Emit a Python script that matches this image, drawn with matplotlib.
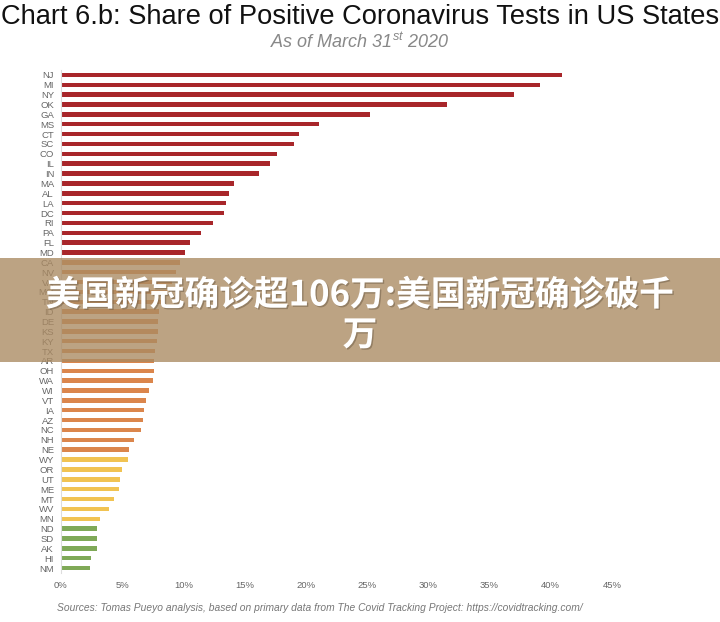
import matplotlib.pyplot as plt
import matplotlib.patheffects as pe
from matplotlib.patches import Rectangle
import numpy as np

plt.rcParams["font.family"] = ["Liberation Sans", "DejaVu Sans"]
plt.rcParams["mathtext.fontset"] = "custom"
plt.rcParams["mathtext.it"] = "Liberation Sans:italic"
plt.rcParams["mathtext.rm"] = "Liberation Sans:italic"

states = ["NJ", "MI", "NY", "OK", "GA", "MS", "CT", "SC", "CO", "IL", "IN",
          "MA", "AL", "LA", "DC", "RI", "PA", "FL", "MD", "CA", "NV", "VA",
          "MO", "TN", "ID", "DE", "KS", "KY", "TX", "AR", "OH", "WA", "WI",
          "VT", "IA", "AZ", "NC", "NH", "NE", "WY", "OR", "UT", "ME", "MT",
          "WV", "MN", "ND", "SD", "AK", "HI", "NM"]
positive_share = [40.9, 39.1, 37.0, 31.5, 25.2, 21.1, 19.4, 19.0, 17.6, 17.1, 16.2,
                  14.1, 13.7, 13.5, 13.3, 12.4, 11.4, 10.5, 10.1, 9.7, 9.4, 9.1,
                  8.7, 8.3, 7.98, 7.96, 7.92, 7.84, 7.64, 7.62, 7.6, 7.52, 7.2,
                  6.92, 6.75, 6.67, 6.5, 6.0, 5.53, 5.47, 5.0, 4.82, 4.77, 4.36,
                  3.95, 3.21, 2.94, 2.91, 2.91, 2.42, 2.40]
# colour group per state: number of states in each band, top to bottom
group_sizes = [19, 20, 7, 6]
group_colors = ["#a8262a", "#db864c", "#f1c352", "#7fa957"]

colors = []
for n, c in zip(group_sizes, group_colors):
    colors += [c] * n

fig = plt.figure(figsize=(7.2, 6.22), dpi=100)
ax = fig.add_axes([61 / 720, 1 - 573 / 622, 551 / 720, 503 / 622])

y = np.arange(len(states))
ax.barh(y, positive_share, height=0.45, color=colors)
ax.set_ylim(len(states) - 0.5, -0.5)
ax.set_xlim(0, 45)
ax.set_yticks(y)
ax.set_yticklabels(states)
xt = np.arange(0, 50, 5)
ax.set_xticks(xt)
ax.set_xticklabels(["{}%".format(v) for v in xt])
ax.tick_params(axis="both", length=0, colors="#666666", labelsize=6.8)
ax.tick_params(axis="x", pad=6)
ax.tick_params(axis="y", pad=5)
for s in ["top", "right", "bottom"]:
    ax.spines[s].set_visible(False)
ax.spines["left"].set_color("#dddddd")
ax.spines["left"].set_linewidth(0.8)

fig.text(0.5, 1 - 17 / 622, "Chart 6.b: Share of Positive Coronavirus Tests in US States",
         ha="center", va="center", fontsize=19.6, color="#111111")
fig.text(0.5, 1 - 42 / 622, r"As of March 31$^{st}$ 2020", ha="center", va="center",
         fontsize=13, style="italic", color="#888888")
fig.text(57 / 720, 1 - 608 / 622,
         "Sources: Tomas Pueyo analysis, based on primary data from The Covid Tracking Project: https://covidtracking.com/",
         ha="left", va="center", fontsize=7.4, style="italic", color="#777777")

# overlay banner
fig.add_artist(Rectangle((0, 1 - 362 / 622), 1, 104 / 622, transform=fig.transFigure,
                         facecolor="#aa8a62", alpha=0.79, edgecolor="none", zorder=5))
cjk = ["Noto Sans CJK SC", "DejaVu Sans"]
shadow = [pe.withSimplePatchShadow(offset=(1, -1), shadow_rgbFace="#6b5a44", alpha=0.5)]
fig.text(0.5, 1 - 295 / 622, "美国新冠确诊超106万:美国新冠确诊破千", ha="center", va="center",
         fontsize=25, fontweight="heavy", color="white", family=cjk, zorder=6,
         path_effects=shadow)
fig.text(0.5, 1 - 335 / 622, "万", ha="center", va="center",
         fontsize=25, fontweight="heavy", color="white", family=cjk, zorder=6,
         path_effects=shadow)

fig.savefig("out.png", dpi=100)
